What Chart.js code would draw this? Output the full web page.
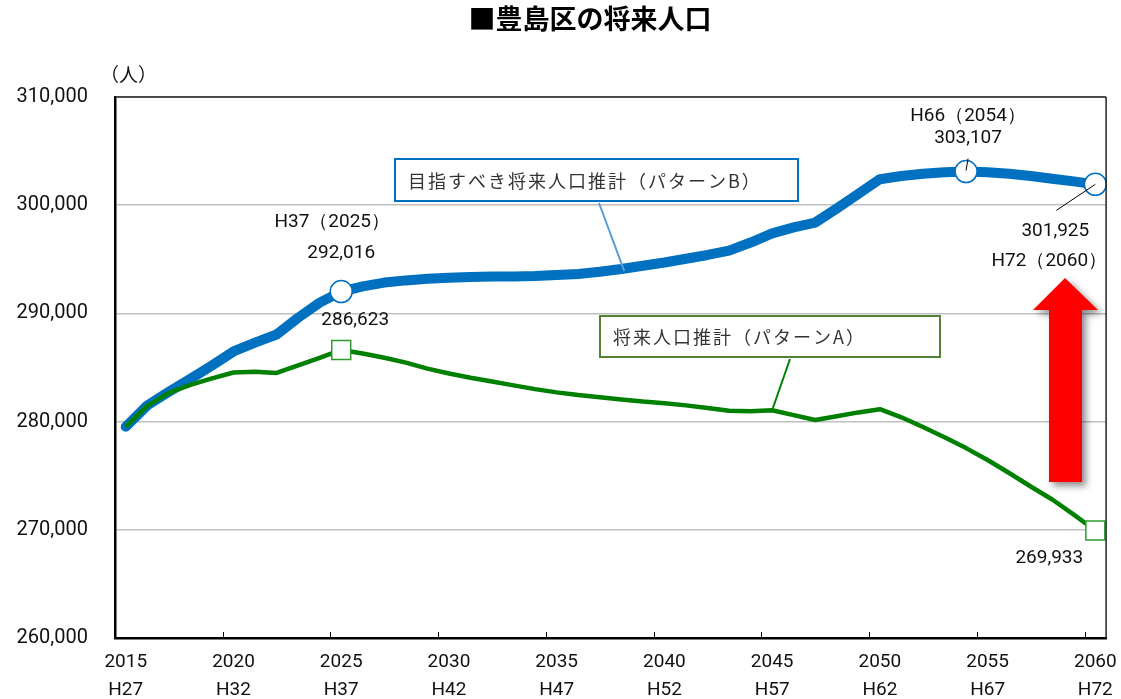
<!DOCTYPE html>
<html lang="ja">
<head>
<meta charset="utf-8">
<title>豊島区の将来人口</title>
<script src="https://cdn.jsdelivr.net/npm/chart.js@4/dist/chart.umd.min.js"></script>
<style>
  html, body { margin: 0; padding: 0; background: #fff; }
  #wrap { width: 1121px; height: 699px; position: relative; }
</style>
</head>
<body>
<div id="wrap"><canvas id="popChart"></canvas></div>
<script>
const years = [2015, 2016, 2017, 2018, 2019, 2020, 2021, 2022, 2023, 2024,
               2025, 2026, 2027, 2028, 2029, 2030, 2031, 2032, 2033, 2034,
               2035, 2036, 2037, 2038, 2039, 2040, 2041, 2042, 2043, 2044,
               2045, 2046, 2047, 2048, 2049, 2050, 2051, 2052, 2053, 2054,
               2055, 2056, 2057, 2058, 2059, 2060];
const tickYears = ['2015', '2020', '2025', '2030', '2035', '2040', '2045', '2050', '2055', '2060'];
const tickEras = ['H27', 'H32', 'H37', 'H42', 'H47', 'H52', 'H57', 'H62', 'H67', 'H72'];
const yTicks = [260000, 270000, 280000, 290000, 300000, 310000];

// 将来人口推計（パターンA）
const patternA = [279530, 281450, 282650, 283400, 284000, 284540, 284600, 284500, 285200, 285900,
                  286623, 286300, 285900, 285450, 284900, 284450, 284050, 283700, 283350, 283000,
                  282700, 282450, 282250, 282050, 281850, 281700, 281500, 281250, 281000, 280950,
                  281050, 280600, 280150, 280500, 280850, 281150, 280400, 279500, 278550, 277550,
                  276450, 275250, 274000, 272800, 271400, 269933];
// 目指すべき将来人口推計（パターンB）
const patternB = [279530, 281500, 282750, 283950, 285180, 286480, 287300, 288050, 289600, 291000,
                  292016, 292500, 292850, 293050, 293200, 293300, 293370, 293400, 293400, 293450,
                  293550, 293650, 293850, 294100, 294400, 294700, 295050, 295400, 295800, 296550,
                  297400, 297950, 298400, 299700, 301050, 302400, 302700, 302900, 303050, 303107,
                  303050, 302900, 302700, 302450, 302200, 301925];

const markYearsA = [2025, 2060];
const markYearsB = [2025, 2054, 2060];

const NUM_FONT = 'Roboto, "Liberation Sans", sans-serif';
const JP_FONT = '"Noto Sans CJK JP", "Noto Sans", sans-serif';
const fmt = v => v.toLocaleString('en-US');

function drawText(ctx, text, x, y, font, color, align) {
    ctx.save();
    ctx.font = font;
    ctx.fillStyle = color || '#111';
    ctx.textAlign = align || 'center';
    ctx.textBaseline = 'middle';
    ctx.fillText(text, x, y);
    ctx.restore();
}

function drawLine(ctx, x1, y1, x2, y2, color, width) {
    ctx.save();
    ctx.strokeStyle = color;
    ctx.lineWidth = width;
    ctx.beginPath();
    ctx.moveTo(x1, y1);
    ctx.lineTo(x2, y2);
    ctx.stroke();
    ctx.restore();
}

function drawCallout(ctx, x, y, w, h, color, text) {
    ctx.save();
    ctx.fillStyle = '#fff';
    ctx.fillRect(x, y, w, h);
    ctx.strokeStyle = color;
    ctx.lineWidth = 2;
    ctx.strokeRect(x, y, w, h);
    ctx.font = '18px ' + JP_FONT;
    ctx.letterSpacing = '2px';
    ctx.fillStyle = '#333';
    ctx.textBaseline = 'middle';
    ctx.fillText(text, x + 13, y + h / 2 + 1);
    ctx.restore();
}

const annotationPlugin = {
    id: 'annotations',
    afterDatasetsDraw(chart) {
        const ctx = chart.ctx;
        const xs = chart.scales.x;
        const ys = chart.scales.y;
        const pt = (series, year) => {
            const i = years.indexOf(year);
            return { x: xs.getPixelForValue(i), y: ys.getPixelForValue(series[i]), v: series[i] };
        };
        const lblFont = '19px ' + NUM_FONT;

        // callout boxes and leader lines
        const bLead = pt(patternB, 2038);
        drawLine(ctx, 599, 203, bLead.x + 3, bLead.y + 2, '#5B9BD5', 2);
        drawCallout(ctx, 395, 159, 403, 42, '#0070C0', '目指すべき将来人口推計（パターンB）');
        const aLead = pt(patternA, 2045);
        drawLine(ctx, 790, 359, aLead.x, aLead.y, '#008000', 2);
        drawCallout(ctx, 600, 316, 340, 41, '#548235', '将来人口推計（パターンA）');

        // 2025
        const b25 = pt(patternB, 2025);
        drawText(ctx, 'H37（2025）', b25.x - 9, b25.y - 69, lblFont);
        drawText(ctx, fmt(b25.v), b25.x, b25.y - 38, lblFont);
        const a25 = pt(patternA, 2025);
        drawText(ctx, fmt(a25.v), a25.x + 14, a25.y - 30, lblFont);

        // 2054
        const b54 = pt(patternB, 2054);
        drawText(ctx, 'H66（2054）', b54.x + 2, b54.y - 55, lblFont);
        drawText(ctx, fmt(b54.v), b54.x + 2, b54.y - 33, lblFont);
        drawLine(ctx, b54.x + 2, b54.y - 13, b54.x, b54.y - 1, '#000', 1);

        // 2060
        const b60 = pt(patternB, 2060);
        drawLine(ctx, b60.x, b60.y, b60.x - 39, b60.y + 26, '#000', 1);
        drawText(ctx, fmt(b60.v), b60.x - 40, b60.y + 47, lblFont);
        drawText(ctx, 'H72（2060）', b60.x - 46, b60.y + 77, lblFont);
        const a60 = pt(patternA, 2060);
        drawText(ctx, fmt(a60.v), a60.x - 46, a60.y + 28, lblFont);

        // red arrow
        ctx.save();
        ctx.shadowColor = 'rgba(0,0,0,0.45)';
        ctx.shadowBlur = 7;
        ctx.shadowOffsetX = 4;
        ctx.shadowOffsetY = 4;
        ctx.fillStyle = '#FF0000';
        ctx.beginPath();
        ctx.moveTo(1065, 278);
        ctx.lineTo(1098, 310);
        ctx.lineTo(1082, 310);
        ctx.lineTo(1082, 482);
        ctx.lineTo(1049, 482);
        ctx.lineTo(1049, 310);
        ctx.lineTo(1033, 310);
        ctx.closePath();
        ctx.fill();
        ctx.restore();
    },
    afterDraw(chart) {
        const ctx = chart.ctx;
        const a = chart.chartArea;
        const xs = chart.scales.x;
        // plot frame, top and right
        drawLine(ctx, a.left, a.top, a.right, a.top, '#222', 1.5);
        drawLine(ctx, a.right, a.top, a.right, a.bottom, '#222', 1.5);
        // inside tick marks between categories, every 5 years
        for (let i = 5; i < years.length; i += 5) {
            const x = Math.round((xs.getPixelForValue(i - 1) + xs.getPixelForValue(i)) / 2) + 0.5;
            drawLine(ctx, x, a.bottom, x, a.bottom - 6, '#000', 1);
        }
        // title and unit
        drawText(ctx, '■豊島区の将来人口', 590, 19, 'bold 27px ' + JP_FONT, '#000');
        drawText(ctx, '（人）', 100, 75, '19px ' + JP_FONT, '#111', 'left');
    }
};

const ctx = document.getElementById('popChart').getContext('2d');

new Chart(ctx, {
    type: 'line',
    data: {
        labels: years,
        datasets: [{
            label: '将来人口推計（パターンA）',
            data: patternA,
            borderColor: '#008000',
            borderWidth: 4.5,
            borderJoinStyle: 'round',
            tension: 0,
            pointStyle: 'rect',
            pointRadius: years.map(y => markYearsA.includes(y) ? 13.4 : 0),
            pointBackgroundColor: '#fff',
            pointBorderColor: '#2E9A2E',
            pointBorderWidth: 1.5
        }, {
            label: '目指すべき将来人口推計（パターンB）',
            data: patternB,
            borderColor: '#0070C0',
            borderWidth: 10,
            borderJoinStyle: 'round',
            borderCapStyle: 'round',
            tension: 0,
            pointStyle: 'circle',
            pointRadius: years.map(y => markYearsB.includes(y) ? 11 : 0),
            pointBackgroundColor: '#fff',
            pointBorderColor: '#0070C0',
            pointBorderWidth: 1.5
        }]
    },
    options: {
        responsive: true,
        maintainAspectRatio: false,
        animation: false,
        events: [],
        layout: {
            padding: { top: 97, right: 14, bottom: 0, left: 0 }
        },
        plugins: {
            legend: { display: false },
            title: { display: false },
            tooltip: { enabled: false }
        },
        scales: {
            x: {
                type: 'category',
                offset: true,
                afterFit: s => { s.height = 61; s.paddingLeft = 0; s.paddingRight = 0; },
                grid: { display: true, drawOnChartArea: false, drawTicks: false },
                border: { display: true, color: '#000', width: 2.5 },
                ticks: {
                    autoSkip: false,
                    maxRotation: 0,
                    padding: 10,
                    color: '#111',
                    font: { family: NUM_FONT, size: 19, lineHeight: 1.47 },
                    callback: function(value, index) {
                        const k = tickYears.indexOf(String(years[index]));
                        return k >= 0 ? [tickYears[k], tickEras[k]] : '';
                    }
                }
            },
            y: {
                min: yTicks[0],
                max: yTicks[yTicks.length - 1],
                afterFit: s => { s.width = 115; s.paddingTop = 0; s.paddingBottom = 0; },
                grid: { color: '#BFBFBF', lineWidth: 1.5, drawTicks: false },
                border: { display: true, color: '#000', width: 2.5 },
                ticks: {
                    stepSize: yTicks[1] - yTicks[0],
                    padding: 27,
                    color: '#111',
                    font: { family: NUM_FONT, size: 20 },
                    callback: v => fmt(v)
                }
            }
        }
    },
    plugins: [annotationPlugin]
});
</script>
</body>
</html>
